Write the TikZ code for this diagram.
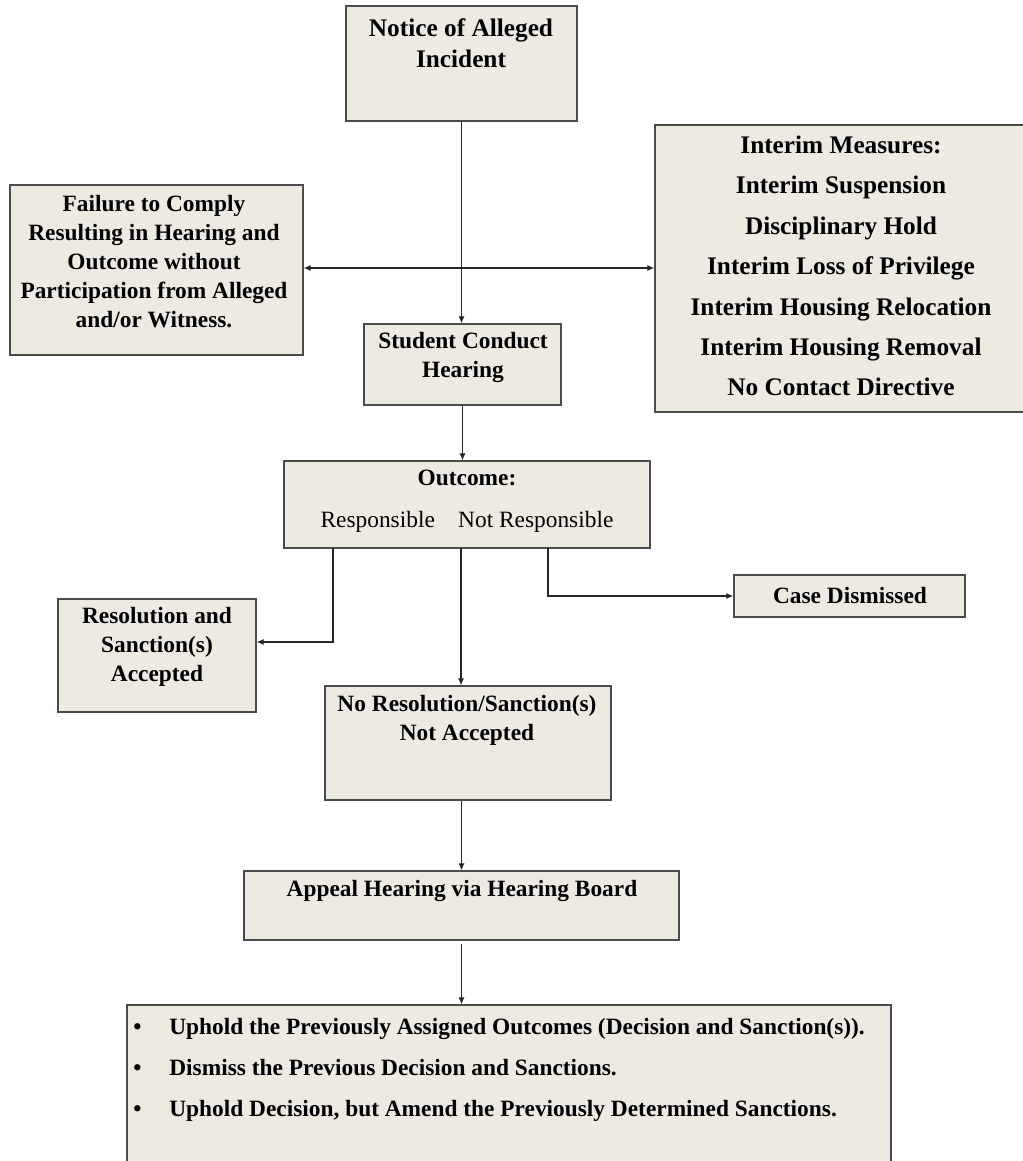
\documentclass[tikz,border=0pt]{standalone}
\usepackage{fontspec}
\setmainfont{Liberation Serif}
\usepackage{xcolor}
\usepackage{tikz}
\usetikzlibrary{arrows.meta,fit,shadows}
\definecolor{boxfill}{RGB}{237,234,225}

\begin{document}
\begin{tikzpicture}[
	x=0.02cm, y=-0.02cm,
	stage/.style={shape=rectangle, draw=black!70, fill=boxfill, line width=0.8pt, inner sep=0pt,
		drop shadow={opacity=0.9, fill=black!85, shadow xshift=0.5pt, shadow yshift=-0.8pt}},
	lbl/.style={inner sep=0pt, align=center, font=\bfseries\fontsize{13.3}{16.5}\selectfont},
	lblwide/.style={lbl, font=\bfseries\fontsize{14.4}{23}\selectfont},
	arr/.style={line width=0.7pt, black!85, -{Latex[length=4pt,width=3.6pt]}},
]
\useasboundingbox (0,0) rectangle (1023,1161);

\node[stage, fit={(346,6) (577,121)}] (notice) {};
\node[stage, fit={(10,185) (303,355)}] (failure) {};
\node[stage, fit={(655,125) (1040,412)}] (interim) {};
\node[stage, fit={(364,324) (561,405)}] (student) {};
\node[stage, fit={(284,461) (650,548)}] (outcome) {};
\node[stage, fit={(58,599) (256,712)}] (resolution) {};
\node[stage, fit={(734,575) (965,617)}] (dismissed) {};
\node[stage, fit={(325,686) (611,800)}] (nores) {};
\node[stage, fit={(244,871) (679,940)}] (appeal) {};
\node[stage, fit={(127,1005) (891,1190)}] (decisions) {};

\node[lbl, font=\bfseries\fontsize{14.4}{17.6}\selectfont] (notice-txt) at (461,43) {Notice of Alleged\\Incident};
\node[lbl] (failure-txt) at (154,262) {Failure to Comply\\Resulting in Hearing and\\Outcome without\\Participation from Alleged\\and/or Witness.};
\node[lblwide] (interim-txt) at (841,266) {Interim Measures:\\Interim Suspension\\Disciplinary Hold\\Interim Loss of Privilege\\Interim Housing Relocation\\Interim Housing Removal\\No Contact Directive};
\node[lbl] (student-txt) at (463,357) {Student Conduct\\Hearing};
\node[lbl, font=\fontsize{13.3}{23.8}\selectfont] (outcome-txt) at (467,501) {\textbf{Outcome:}\\Responsible\hspace{1em}Not Responsible};
\node[lbl] (resolution-txt) at (157,647) {Resolution and\\Sanction(s)\\Accepted};
\node[lbl] (dismissed-txt) at (850,595) {Case Dismissed};
\node[lbl] (nores-txt) at (467,720) {No Resolution/Sanction(s)\\Not Accepted};
\node[lbl] (appeal-txt) at (462,891) {Appeal Hearing via Hearing Board};
\node[lbl, align=left, anchor=west, font=\bfseries\fontsize{13.3}{23.2}\selectfont] (decisions-txt) at (133,1070) {%
	\makebox[0.72cm][l]{\textbullet}Uphold the Previously Assigned Outcomes (Decision and Sanction(s)).\\
	\makebox[0.72cm][l]{\textbullet}Dismiss the Previous Decision and Sanctions.\\
	\makebox[0.72cm][l]{\textbullet}Uphold Decision, but Amend the Previously Determined Sanctions.};

\coordinate (resp-foot) at (333,548);
\coordinate (mid-foot) at (461,548);
\coordinate (notresp-foot) at (548,548);

\draw[arr] (notice.south) -- (notice.south |- student.north);
\draw[arr, {Latex[length=4pt,width=3.6pt]}-{Latex[length=4pt,width=3.6pt]}] (failure.east |- 0,268) -- (interim.west |- 0,268);
\draw[arr] (student.south) -- (student.south |- outcome.north);
\draw[arr] (resp-foot) |- ([yshift=0.27cm]resolution.east);
\draw[arr] (mid-foot) -- (mid-foot |- nores.north);
\draw[arr] (notresp-foot) |- (dismissed.west);
\draw[arr] (appeal.north |- nores.south) -- (appeal.north);
\draw[arr] ([yshift=-0.06cm]appeal.south) -- (appeal.south |- decisions.north);
\end{tikzpicture}
\end{document}
